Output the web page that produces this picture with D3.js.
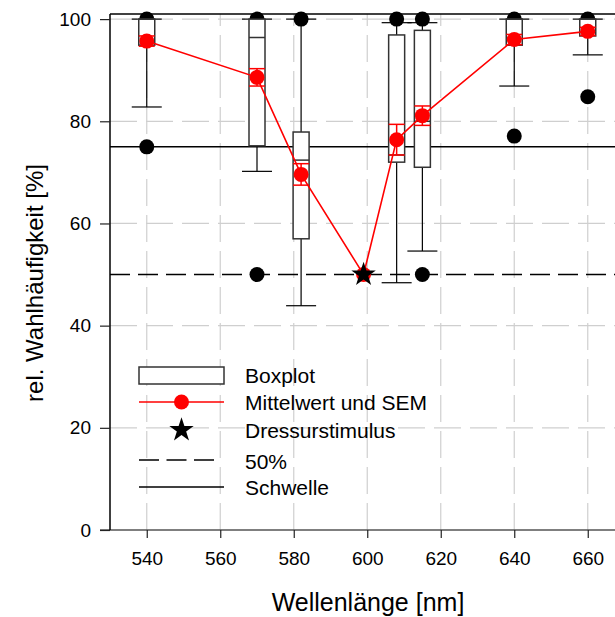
<!DOCTYPE html>
<html>
<head>
<meta charset="utf-8">
<script src="https://cdn.jsdelivr.net/npm/d3@7"></script>
<style>
  body { margin: 0; background: #fff; }
  text { font-family: 'Liberation Sans', Arial, sans-serif; fill: #000; }
</style>
</head>
<body>
<svg id="chart" width="615" height="617"></svg>
<script>
// boxplots (percent of choices per wavelength)
const boxX = [540, 570, 582, 608, 615, 640, 660];
const whiskerLow = [82.8, 70.2, 43.9, 48.4, 54.6, 86.9, 93.0];
const q1 = [94.9, 75.2, 57.0, 72.0, 71.0, 94.9, 96.7];
const median = [100, 96.4, 72.4, 73.4, 80.0, 100, 100];
const q3 = [100, 100, 77.9, 96.9, 97.8, 100, 100];
const whiskerHigh = [100, 100, 100, 99.3, 99.3, 100, 100];

// outliers
const outlierX = [540, 540, 570, 570, 582, 608, 615, 615, 640, 640, 660, 660];
const outlierY = [100, 75, 100, 50, 100, 100, 100, 50, 100, 77.1, 100, 84.8];

// mean and SEM
const meanX = [540, 570, 582, 599, 608, 615, 640, 660];
const meanY = [95.7, 88.6, 69.6, 50, 76.4, 81.1, 96.0, 97.6];
const sem = [1.0, 1.7, 2.1, 0, 3.0, 1.9, 1.0, 0.8];

// training stimulus
const stimX = [599];
const stimY = [50];

const fiftyLevel = 50;
const thresholdLevel = 75;

const xTicks = [540, 560, 580, 600, 620, 640, 660];
const yTicks = [0, 20, 40, 60, 80, 100];

const legendLabels = ['Boxplot', 'Mittelwert und SEM', 'Dressurstimulus', '50%', 'Schwelle'];

const pLeft = 110, pRight = 624.5, pTop = 14, pBottom = 530;
const boxW = 16, capW = 30;

const svg = d3.select('#chart');

const x = d3.scaleLinear().domain([530, 670]).range([pLeft, pRight]);
const y = d3.scaleLinear().domain([0, 101]).range([pBottom, pTop]);

// grid
const grid = svg.append('g')
  .attr('stroke', '#cfcfcf')
  .attr('stroke-width', 1.2)
  .attr('stroke-dasharray', '27,9');
grid.selectAll('.vg').data(xTicks).enter().append('line')
  .attr('x1', d => x(d)).attr('x2', d => x(d))
  .attr('y1', pBottom).attr('y2', pTop);
grid.selectAll('.hg').data(yTicks.slice(1)).enter().append('line')
  .attr('y1', d => y(d)).attr('y2', d => y(d))
  .attr('x1', pLeft).attr('x2', pRight);

// reference lines
svg.append('line')
  .attr('x1', pLeft).attr('x2', pRight)
  .attr('y1', y(thresholdLevel)).attr('y2', y(thresholdLevel))
  .attr('stroke', '#000').attr('stroke-width', 1.5);
svg.append('line')
  .attr('x1', pLeft).attr('x2', pRight)
  .attr('y1', y(fiftyLevel)).attr('y2', y(fiftyLevel))
  .attr('stroke', '#000').attr('stroke-width', 1.5)
  .attr('stroke-dasharray', '20,8');

// outliers (behind boxes)
svg.append('g').selectAll('circle')
  .data(outlierX.map((v, i) => [v, outlierY[i]]))
  .enter().append('circle')
  .attr('cx', d => x(d[0]))
  .attr('cy', d => y(d[1]))
  .attr('r', 7.5)
  .attr('fill', '#000');

const boxes = boxX.map((v, i) => ({
  x: v, lo: whiskerLow[i], q1: q1[i], med: median[i], q3: q3[i], hi: whiskerHigh[i]
}));

const bx = svg.append('g').selectAll('g').data(boxes).enter().append('g');
// whiskers
bx.append('line')
  .attr('x1', d => x(d.x)).attr('x2', d => x(d.x))
  .attr('y1', d => y(d.lo)).attr('y2', d => y(d.hi))
  .attr('stroke', '#000').attr('stroke-width', 1.2);
bx.append('line')
  .attr('x1', d => x(d.x) - capW / 2).attr('x2', d => x(d.x) + capW / 2)
  .attr('y1', d => y(d.lo)).attr('y2', d => y(d.lo))
  .attr('stroke', '#000').attr('stroke-width', 1.2);
bx.append('line')
  .attr('x1', d => x(d.x) - capW / 2).attr('x2', d => x(d.x) + capW / 2)
  .attr('y1', d => y(d.hi)).attr('y2', d => y(d.hi))
  .attr('stroke', '#000').attr('stroke-width', 1.2);
bx.append('rect')
  .attr('x', d => x(d.x) - boxW / 2)
  .attr('width', boxW)
  .attr('y', d => y(d.q3))
  .attr('height', d => y(d.q1) - y(d.q3))
  .attr('fill', '#fff')
  .attr('stroke', '#333').attr('stroke-width', 1.5);
bx.append('line')
  .attr('x1', d => x(d.x) - boxW / 2).attr('x2', d => x(d.x) + boxW / 2)
  .attr('y1', d => y(d.med)).attr('y2', d => y(d.med))
  .attr('stroke', '#333').attr('stroke-width', 1.5);

// mean line + SEM
const means = meanX.map((v, i) => ({x: v, m: meanY[i], s: sem[i]}));
svg.append('path')
  .datum(means)
  .attr('fill', 'none')
  .attr('stroke', '#ff0000')
  .attr('stroke-width', 1.6)
  .attr('d', d3.line().x(d => x(d.x)).y(d => y(d.m)));

const eb = svg.append('g').attr('stroke', '#ff0000').attr('stroke-width', 1.5)
  .selectAll('g').data(means.filter(d => d.s > 0)).enter().append('g');
eb.append('line')
  .attr('x1', d => x(d.x)).attr('x2', d => x(d.x))
  .attr('y1', d => y(d.m - d.s)).attr('y2', d => y(d.m + d.s));
eb.append('line')
  .attr('x1', d => x(d.x) - boxW / 2).attr('x2', d => x(d.x) + boxW / 2)
  .attr('y1', d => y(d.m - d.s)).attr('y2', d => y(d.m - d.s));
eb.append('line')
  .attr('x1', d => x(d.x) - boxW / 2).attr('x2', d => x(d.x) + boxW / 2)
  .attr('y1', d => y(d.m + d.s)).attr('y2', d => y(d.m + d.s));

svg.append('g').selectAll('circle')
  .data(means).enter().append('circle')
  .attr('cx', d => x(d.x))
  .attr('cy', d => y(d.m))
  .attr('r', 7.5)
  .attr('fill', '#ff0000');

// star
const star = d3.symbol().type(d3.symbolStar).size(185);
svg.append('g').selectAll('path')
  .data(stimX.map((v, i) => [v, stimY[i]]))
  .enter().append('path')
  .attr('d', star)
  .attr('transform', d => `translate(${x(d[0])},${y(d[1])})`)
  .attr('fill', '#000');

// frame top
svg.append('line')
  .attr('x1', pLeft).attr('x2', pRight)
  .attr('y1', pTop).attr('y2', pTop)
  .attr('stroke', '#000').attr('stroke-width', 1.5);

// axes
const xAxis = svg.append('g')
  .attr('transform', `translate(0,${pBottom})`)
  .call(d3.axisBottom(x).tickValues(xTicks).tickSize(8).tickPadding(14).tickSizeOuter(0));
xAxis.select('.domain').attr('stroke', '#555').attr('stroke-width', 1.5)
  .attr('d', `M${pLeft - 10},0H${pRight}`);
xAxis.selectAll('.tick line').attr('stroke', '#222').attr('stroke-width', 1.2);
xAxis.selectAll('text').attr('font-size', 19).attr('font-family', null);

const yAxis = svg.append('g')
  .attr('transform', `translate(${pLeft},0)`)
  .call(d3.axisLeft(y).tickValues(yTicks).tickSize(10).tickPadding(9).tickSizeOuter(0));
yAxis.select('.domain').attr('stroke', '#000').attr('stroke-width', 1.5)
  .attr('d', `M0,${pTop}V${pBottom}`);
yAxis.selectAll('.tick line').attr('stroke', '#222').attr('stroke-width', 1.2);
yAxis.selectAll('text').attr('font-size', 19).attr('font-family', null);

// titles
svg.append('text')
  .attr('x', 368).attr('y', 611)
  .attr('text-anchor', 'middle')
  .attr('font-size', 25)
  .text('Wellenlänge [nm]');
svg.append('text')
  .attr('transform', 'translate(43,283) rotate(-90)')
  .attr('text-anchor', 'middle')
  .attr('font-size', 24)
  .text('rel. Wahlhäufigkeit [%]');

// legend
const lg = svg.append('g');
const rowY = [375.5, 402, 430, 461, 487];
const lx0 = 139, lx1 = 224, lmid = 181.5;
lg.append('rect')
  .attr('x', lx0).attr('y', rowY[0] - 8.5)
  .attr('width', lx1 - lx0).attr('height', 17)
  .attr('fill', '#fff').attr('stroke', '#333').attr('stroke-width', 1.5);
lg.append('line')
  .attr('x1', lx0).attr('x2', lx1).attr('y1', rowY[1]).attr('y2', rowY[1])
  .attr('stroke', '#ff0000').attr('stroke-width', 1.6);
lg.append('circle')
  .attr('cx', lmid).attr('cy', rowY[1]).attr('r', 7.5).attr('fill', '#ff0000');
lg.append('path')
  .attr('d', star)
  .attr('transform', `translate(${lmid},${rowY[2]})`)
  .attr('fill', '#000');
lg.append('line')
  .attr('x1', lx0).attr('x2', 216).attr('y1', rowY[3] - 1).attr('y2', rowY[3] - 1)
  .attr('stroke', '#000').attr('stroke-width', 1.5).attr('stroke-dasharray', '20,7.5');
lg.append('line')
  .attr('x1', lx0).attr('x2', lx1).attr('y1', rowY[4]).attr('y2', rowY[4])
  .attr('stroke', '#000').attr('stroke-width', 1.5);
lg.selectAll('text').data(legendLabels).enter().append('text')
  .attr('x', 245)
  .attr('y', (d, i) => rowY[i])
  .attr('dy', '0.36em')
  .attr('font-size', 21)
  .text(d => d);
</script>
</body>
</html>
